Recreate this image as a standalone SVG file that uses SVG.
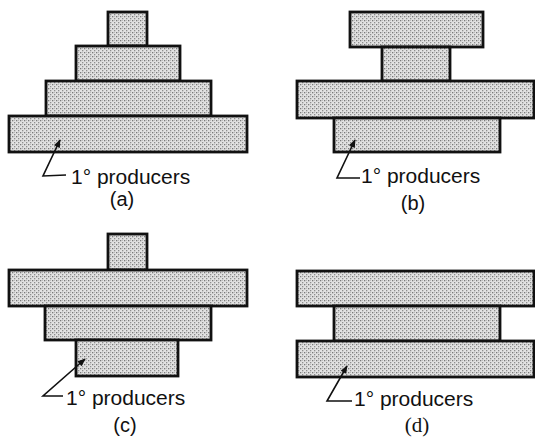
<svg xmlns="http://www.w3.org/2000/svg" width="535" height="438" viewBox="0 0 535 438">
  <defs>
    <!-- halftone-style grey fill for the trophic level bars -->
    <pattern id="dots" width="4" height="4" patternUnits="userSpaceOnUse">
      <rect width="4" height="4" fill="#e2e2e2"/>
      <rect x="0" y="0" width="1.3" height="1.3" fill="#7a7a7a"/>
      <rect x="2" y="2" width="1.3" height="1.3" fill="#8e8e8e"/>
      <rect x="2" y="0" width="1" height="1" fill="#bcbcbc"/>
    </pattern>
    <marker id="head" viewBox="0 0 10 10" refX="9" refY="5" markerWidth="9" markerHeight="8" orient="auto" markerUnits="userSpaceOnUse">
      <path d="M0,1 L10,5 L0,9 Z" fill="#111"/>
    </marker>
  </defs>
  <style>
    .bar { fill: url(#dots); stroke: #111; stroke-width: 2.8; }
    .lead { fill: none; stroke: #111; stroke-width: 1.6; marker-end: url(#head); }
    .lbl { font-family: "Liberation Sans", Arial, sans-serif; font-size: 21px; fill: #111; }
    .cap { font-family: "Liberation Sans", Arial, sans-serif; font-size: 20px; fill: #111; text-anchor: middle; }
    .capserif { font-family: "Liberation Serif", "Times New Roman", serif; font-size: 21px; fill: #111; text-anchor: middle; }
  </style>

  <rect width="535" height="438" fill="#ffffff"/>

  <!-- (a) upright pyramid -->
  <g id="pyramid-a">
    <rect class="bar" x="108" y="12" width="39" height="34"/>
    <rect class="bar" x="76" y="46" width="104" height="35"/>
    <rect class="bar" x="46" y="81" width="165" height="35"/>
    <rect class="bar" x="9" y="116" width="238" height="36"/>
    <text class="lbl" x="71" y="184">1° producers</text>
    <text class="cap" x="122" y="206">(a)</text>
  </g>

  <!-- (b) -->
  <g id="pyramid-b">
    <rect class="bar" x="350" y="12" width="133" height="35"/>
    <rect class="bar" x="382" y="47" width="68" height="34"/>
    <rect class="bar" x="297" y="81" width="237" height="37"/>
    <rect class="bar" x="334" y="118" width="166" height="34"/>
    <text class="lbl" x="361" y="183">1° producers</text>
    <text class="cap" x="413" y="210">(b)</text>
  </g>

  <!-- (c) -->
  <g id="pyramid-c">
    <rect class="bar" x="108" y="234" width="39" height="36"/>
    <rect class="bar" x="9" y="270" width="238" height="36"/>
    <rect class="bar" x="45" y="306" width="166" height="34"/>
    <rect class="bar" x="76" y="340" width="102" height="36"/>
    <text class="lbl" x="66" y="405">1° producers</text>
    <text class="cap" x="125" y="432">(c)</text>
  </g>

  <!-- (d) -->
  <g id="pyramid-d">
    <rect class="bar" x="297" y="271" width="237" height="35"/>
    <rect class="bar" x="334" y="306" width="166" height="35"/>
    <rect class="bar" x="297" y="341" width="237" height="36"/>
    <text class="lbl" x="354" y="406">1° producers</text>
    <text class="capserif" x="417" y="432">(d)</text>
  </g>

  <!-- leader lines pointing at the producer level -->
  <g id="connectors">
    <polyline class="lead" points="66,175 43,176 60,140"/>
    <polyline class="lead" points="360,178 337,178 355,140"/>
    <polyline class="lead" points="63,396 43,396 85,359"/>
    <polyline class="lead" points="352,401 327,401 347,366"/>
  </g>
</svg>
